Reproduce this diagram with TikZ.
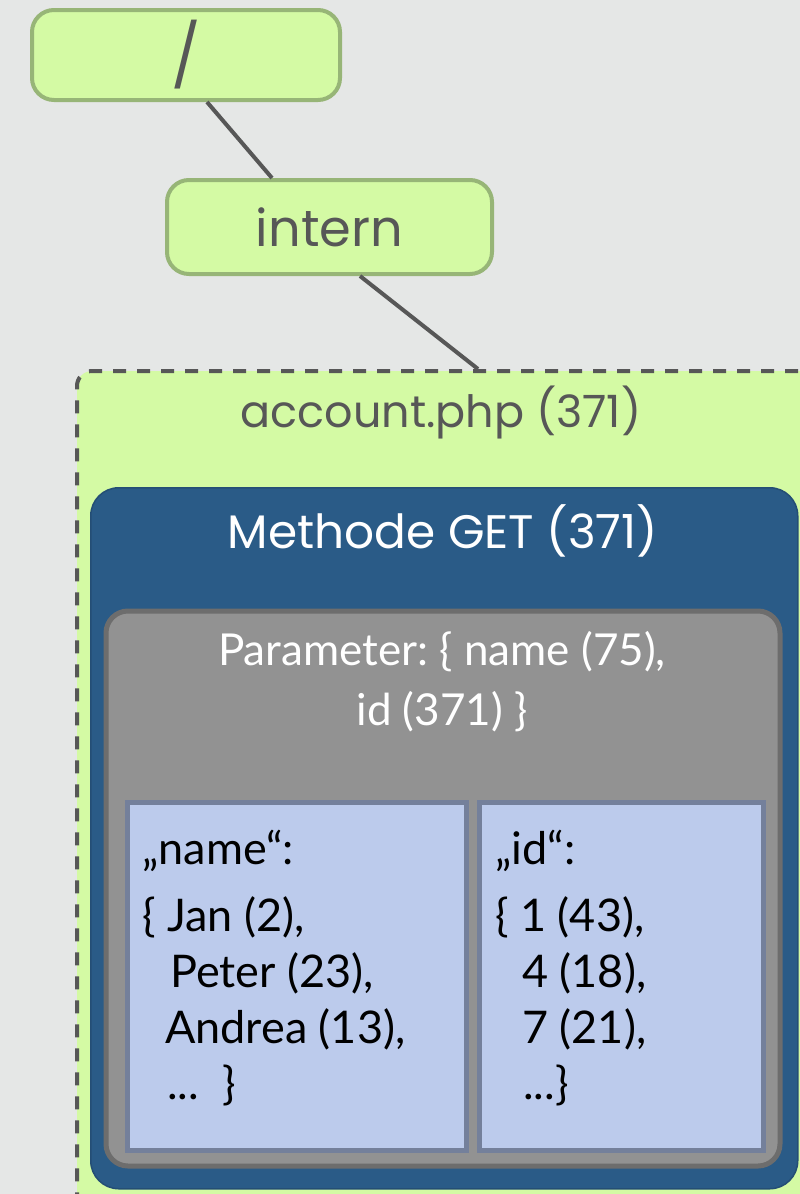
\documentclass[tikz,border=0pt]{standalone}
\usepackage{fontspec}
\setmainfont{Lato}
\newfontfamily\futura{Poppins}
\definecolor{bgc}{HTML}{E5E7E6}
\definecolor{gfill}{HTML}{D4FAA4}
\definecolor{gline}{HTML}{97B577}
\definecolor{dline}{HTML}{575757}
\definecolor{bluec}{HTML}{2A5B87}
\definecolor{blueline}{HTML}{244E75}
\definecolor{grayfill}{HTML}{929292}
\definecolor{grayline}{HTML}{6D6D6D}
\definecolor{lbfill}{HTML}{BCCBEC}
\definecolor{lbline}{HTML}{74809B}
\tikzset{
  greenbox/.style={draw=gline, fill=gfill, line width=4pt, rounded corners=22pt, inner sep=0pt},
  conn/.style={draw=dline, line width=4pt},
  filebox/.style={draw=dline, fill=gfill, line width=4pt, dash pattern=on 13pt off 11pt, rounded corners=15pt, inner sep=0pt},
  methodbox/.style={draw=blueline, fill=bluec, line width=1.5pt, rounded corners=28pt, inner sep=0pt},
  parambox/.style={draw=grayline, fill=grayfill, line width=5pt, rounded corners=22pt, inner sep=0pt},
  valbox/.style={draw=lbline, fill=lbfill, line width=5pt, inner sep=0pt},
  toptext/.style={text=dline, font=\futura\fontsize{51}{56}\selectfont},
  filetext/.style={text=dline, font=\futura\fontsize{44.5}{50}\selectfont},
  methtext/.style={text=white, font=\futura\fontsize{47}{52}\selectfont},
  paramtext/.style={text=white, font=\fontsize{44}{60}\selectfont, align=center},
  valtext/.style={text=black, font=\fontsize{45}{50}\selectfont, anchor=base west, inner sep=0pt},
}
\begin{document}
\begin{tikzpicture}[x=1pt,y=-1pt]
\useasboundingbox (0,0) rectangle (800,1194);
\clip (0,0) rectangle (800,1194);
\fill[bgc] (0,0) rectangle (800,1194);

% top nodes
\node[greenbox, minimum width=308pt, minimum height=90pt] (root) at (186,55) {};
\node[toptext, font=\futura\fontsize{62}{66}\selectfont] (roottext) at (root.center) {/};
\node[greenbox, minimum width=325pt, minimum height=94pt] (intern) at (329.5,227) {};
\node[toptext] (interntext) at (intern.center) {intern};

% file box
\node[filebox, minimum width=760pt, minimum height=870pt, anchor=north west] (file) at (75,369) {};
\node[filetext] (filetext) at (441,412) {account.php (371)};

% connectors
\draw[conn] ([xshift=21pt]root.south) -- ([xshift=-57.5pt]intern.north);
\draw[conn] ([xshift=30.5pt]intern.south) -- ([xshift=403pt]file.north west);

% method box
\node[methodbox, minimum width=707pt, minimum height=701pt, anchor=north west] (method) at (90,487) {};
\node[methtext] (methtext) at (443,531) {Methode GET (371)};

% parameter box
\node[parambox, minimum width=674pt, minimum height=555pt, anchor=north west] (param) at (103.5,608.5) {};
\node[paramtext] (paramtext) at (442,682) {Parameter:\ \{ name (75),\\ id (371) \}};

% value boxes
\node[valbox, minimum width=339pt, minimum height=348pt, anchor=north west] (namebox) at (124.5,799.5) {};
\node[valbox, minimum width=284pt, minimum height=348pt, anchor=north west] (idbox) at (476.5,799.5) {};

\node[valtext] (n0) at (142,864) {„name“:};
\node[valtext] (n1) at (142,931) {\{ Jan (2),};
\node[valtext] (n2) at (170,987) {Peter (23),};
\node[valtext] (n3) at (165,1043) {Andrea (13),};
\node[valtext] (n4) at (167,1099) {...\ \ \}};

\node[valtext] (i0) at (495,864) {„id“:};
\node[valtext] (i1) at (495,931) {\{ 1 (43),};
\node[valtext] (i2) at (522,987) {4 (18),};
\node[valtext] (i3) at (522,1043) {7 (21),};
\node[valtext] (i4) at (523,1099) {...\}};
\end{tikzpicture}
\end{document}
